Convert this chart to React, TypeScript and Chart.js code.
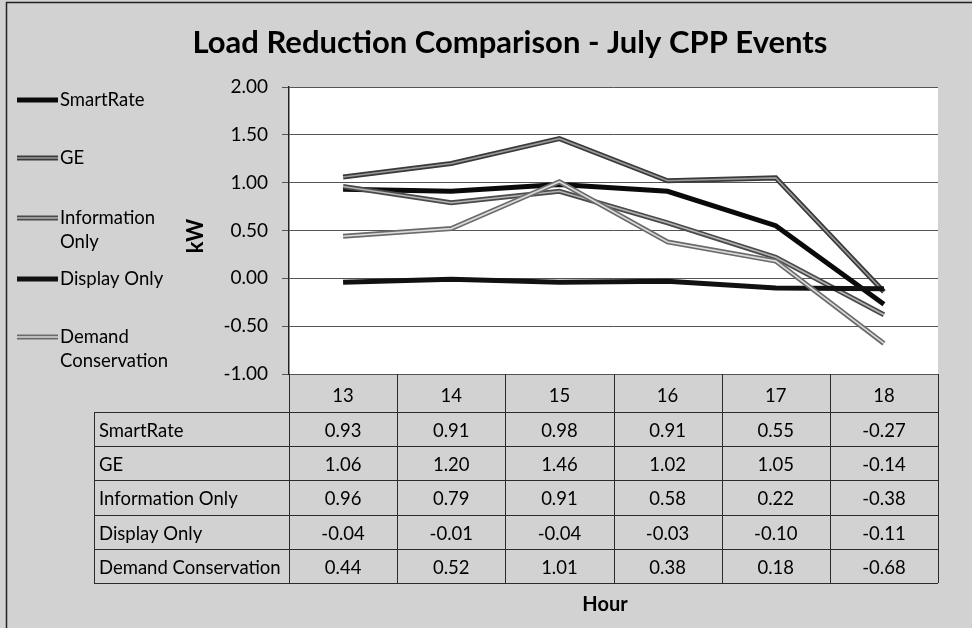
import React, { useEffect, useRef } from "react";
import { Chart, registerables } from "chart.js";

Chart.register(...registerables);

const hours = ["13", "14", "15", "16", "17", "18"];
const seriesNames = ["SmartRate", "GE", "Information Only", "Display Only", "Demand Conservation"];
const smartRate = [0.93, 0.91, 0.98, 0.91, 0.55, -0.27];
const ge = [1.06, 1.2, 1.46, 1.02, 1.05, -0.14];
const informationOnly = [0.96, 0.79, 0.91, 0.58, 0.22, -0.38];
const displayOnly = [-0.04, -0.01, -0.04, -0.03, -0.1, -0.11];
const demandConservation = [0.44, 0.52, 1.01, 0.38, 0.18, -0.68];
const seriesValues = [smartRate, ge, informationOnly, displayOnly, demandConservation];
const legendLabels = [["SmartRate"], ["GE"], ["Information", "Only"], ["Display Only"], ["Demand", "Conservation"]];
const yTicks = [2.0, 1.5, 1.0, 0.5, 0.0, -0.5, -1.0];

const styles = [
  { outer: "#0a0a0a", inner: null as string | null },
  { outer: "#3a3a3a", inner: "#9a9a9a" },
  { outer: "#4a4a4a", inner: "#b5b5b5" },
  { outer: "#111111", inner: null as string | null },
  { outer: "#6a6a6a", inner: "#dadada" },
];
const legendY = [100, 158, 218, 279, 337];

const FONT = "Lato, 'Open Sans', sans-serif";

export default function App() {
  const ref = useRef<HTMLCanvasElement>(null);
  useEffect(() => {
    document.body.style.margin = "0";
    const canvas = ref.current!;
    const datasets: any[] = [];
    seriesValues.forEach((vals, i) => {
      datasets.push({
        label: seriesNames[i],
        data: vals,
        borderColor: styles[i].outer,
        borderWidth: 5,
        pointRadius: 0,
        tension: 0,
        fill: false,
        order: 10 - i * 2,
      });
      if (styles[i].inner) {
        datasets.push({
          label: seriesNames[i] + " inner",
          data: vals,
          borderColor: styles[i].inner,
          borderWidth: 1.6,
          pointRadius: 0,
          tension: 0,
          fill: false,
          order: 9 - i * 2,
        });
      }
    });

    const decor = {
      id: "decor",
      beforeDraw(chart: any) {
        const ctx = chart.ctx;
        const a = chart.chartArea;
        ctx.save();
        ctx.fillStyle = "#d2d2d2";
        ctx.fillRect(0, 0, chart.width, chart.height);
        ctx.strokeStyle = "#222";
        ctx.lineWidth = 1.5;
        ctx.strokeRect(6.5, 2.5, chart.width + 10, chart.height + 10);
        ctx.fillStyle = "#ffffff";
        ctx.fillRect(a.left, a.top, a.right - a.left, a.bottom - a.top);
        ctx.restore();
      },
      afterDraw(chart: any) {
        const ctx = chart.ctx;
        const a = chart.chartArea;
        const xs = chart.scales.x;
        ctx.save();
        // Title
        ctx.fillStyle = "#000";
        ctx.textAlign = "center";
        ctx.textBaseline = "middle";
        ctx.font = `bold 31px ${FONT}`;
        ctx.fillText("Load Reduction Comparison - July CPP Events", 510, 43);
        // kW
        ctx.save();
        ctx.translate(196, 236);
        ctx.rotate(-Math.PI / 2);
        ctx.font = `bold 22px ${FONT}`;
        ctx.fillText("kW", 0, 0);
        ctx.restore();
        // Legend
        ctx.textAlign = "left";
        ctx.font = `18.5px ${FONT}`;
        legendLabels.forEach((lines, i) => {
          const y = legendY[i];
          ctx.lineCap = "butt";
          ctx.strokeStyle = styles[i].outer;
          ctx.lineWidth = 5;
          ctx.beginPath();
          ctx.moveTo(17, y);
          ctx.lineTo(58, y);
          ctx.stroke();
          if (styles[i].inner) {
            ctx.strokeStyle = styles[i].inner;
            ctx.lineWidth = 1.6;
            ctx.beginPath();
            ctx.moveTo(17, y);
            ctx.lineTo(58, y);
            ctx.stroke();
          }
          ctx.fillStyle = "#000";
          lines.forEach((t, k) => ctx.fillText(t, 60, y + k * 24));
        });
        // Data table
        const colW = xs.getPixelForValue(1) - xs.getPixelForValue(0);
        const left = a.left;
        const right = a.right;
        const headTop = a.bottom;
        const headBottom = 412;
        const rowH = 34.2;
        const tableLeft = 94;
        const tableBottom = headBottom + rowH * seriesNames.length;
        ctx.strokeStyle = "#2a2a2a";
        ctx.lineWidth = 1;
        for (let c = 0; c <= hours.length; c++) {
          const x = Math.round(left + c * colW) + 0.5;
          ctx.beginPath();
          ctx.moveTo(x, headTop);
          ctx.lineTo(x, tableBottom);
          ctx.stroke();
        }
        for (let r = 0; r <= seriesNames.length; r++) {
          const y = Math.round(headBottom + r * rowH) + 0.5;
          ctx.beginPath();
          ctx.moveTo(tableLeft, y);
          ctx.lineTo(right, y);
          ctx.stroke();
        }
        ctx.beginPath();
        ctx.moveTo(tableLeft + 0.5, headBottom);
        ctx.lineTo(tableLeft + 0.5, tableBottom);
        ctx.stroke();
        ctx.fillStyle = "#000";
        ctx.textAlign = "center";
        ctx.font = `18.5px ${FONT}`;
        hours.forEach((h, c) => {
          ctx.fillText(h, xs.getPixelForValue(c), (headTop + headBottom) / 2 + 3);
        });
        seriesNames.forEach((name, r) => {
          const cy = headBottom + r * rowH + rowH / 2 + 2;
          ctx.textAlign = "left";
          ctx.fillText(name, tableLeft + 5, cy);
          ctx.textAlign = "center";
          seriesValues[r].forEach((v, c) => {
            ctx.fillText(v.toFixed(2), xs.getPixelForValue(c), cy);
          });
        });
        // Hour label
        ctx.font = `bold 20px ${FONT}`;
        ctx.fillStyle = "#000";
        ctx.fillText("Hour", 605, 605);
        ctx.restore();
      },
    };

    const chart = new Chart(canvas, {
      type: "line",
      data: { labels: hours, datasets },
      options: {
        animation: false,
        responsive: false,
        maintainAspectRatio: false,
        layout: { padding: { top: 87, left: 209, right: 34, bottom: 254 } },
        plugins: { legend: { display: false }, tooltip: { enabled: false }, title: { display: false } },
        scales: {
          x: {
            type: "category",
            offset: true,
            grid: { display: false },
            border: { display: false },
            ticks: { display: false },
            afterFit: (s: any) => {
              s.height = 0;
            },
          },
          y: {
            min: Math.min(...yTicks),
            max: Math.max(...yTicks),
            afterBuildTicks: (s: any) => {
              s.ticks = yTicks.slice().reverse().map((v) => ({ value: v }));
            },
            ticks: {
              callback: (v: any) => Number(v).toFixed(2),
              color: "#000",
              font: { size: 19, family: FONT },
              padding: 14,
            },
            grid: { color: "#555", lineWidth: 1, tickLength: 7, drawTicks: true },
            border: { color: "#222", width: 1.5 },
            afterFit: (s: any) => {
              s.width = 80;
            },
          },
        },
      },
      plugins: [decor],
    });
    return () => chart.destroy();
  }, []);
  return <canvas ref={ref} width={972} height={628} style={{ display: "block" }} />;
}
